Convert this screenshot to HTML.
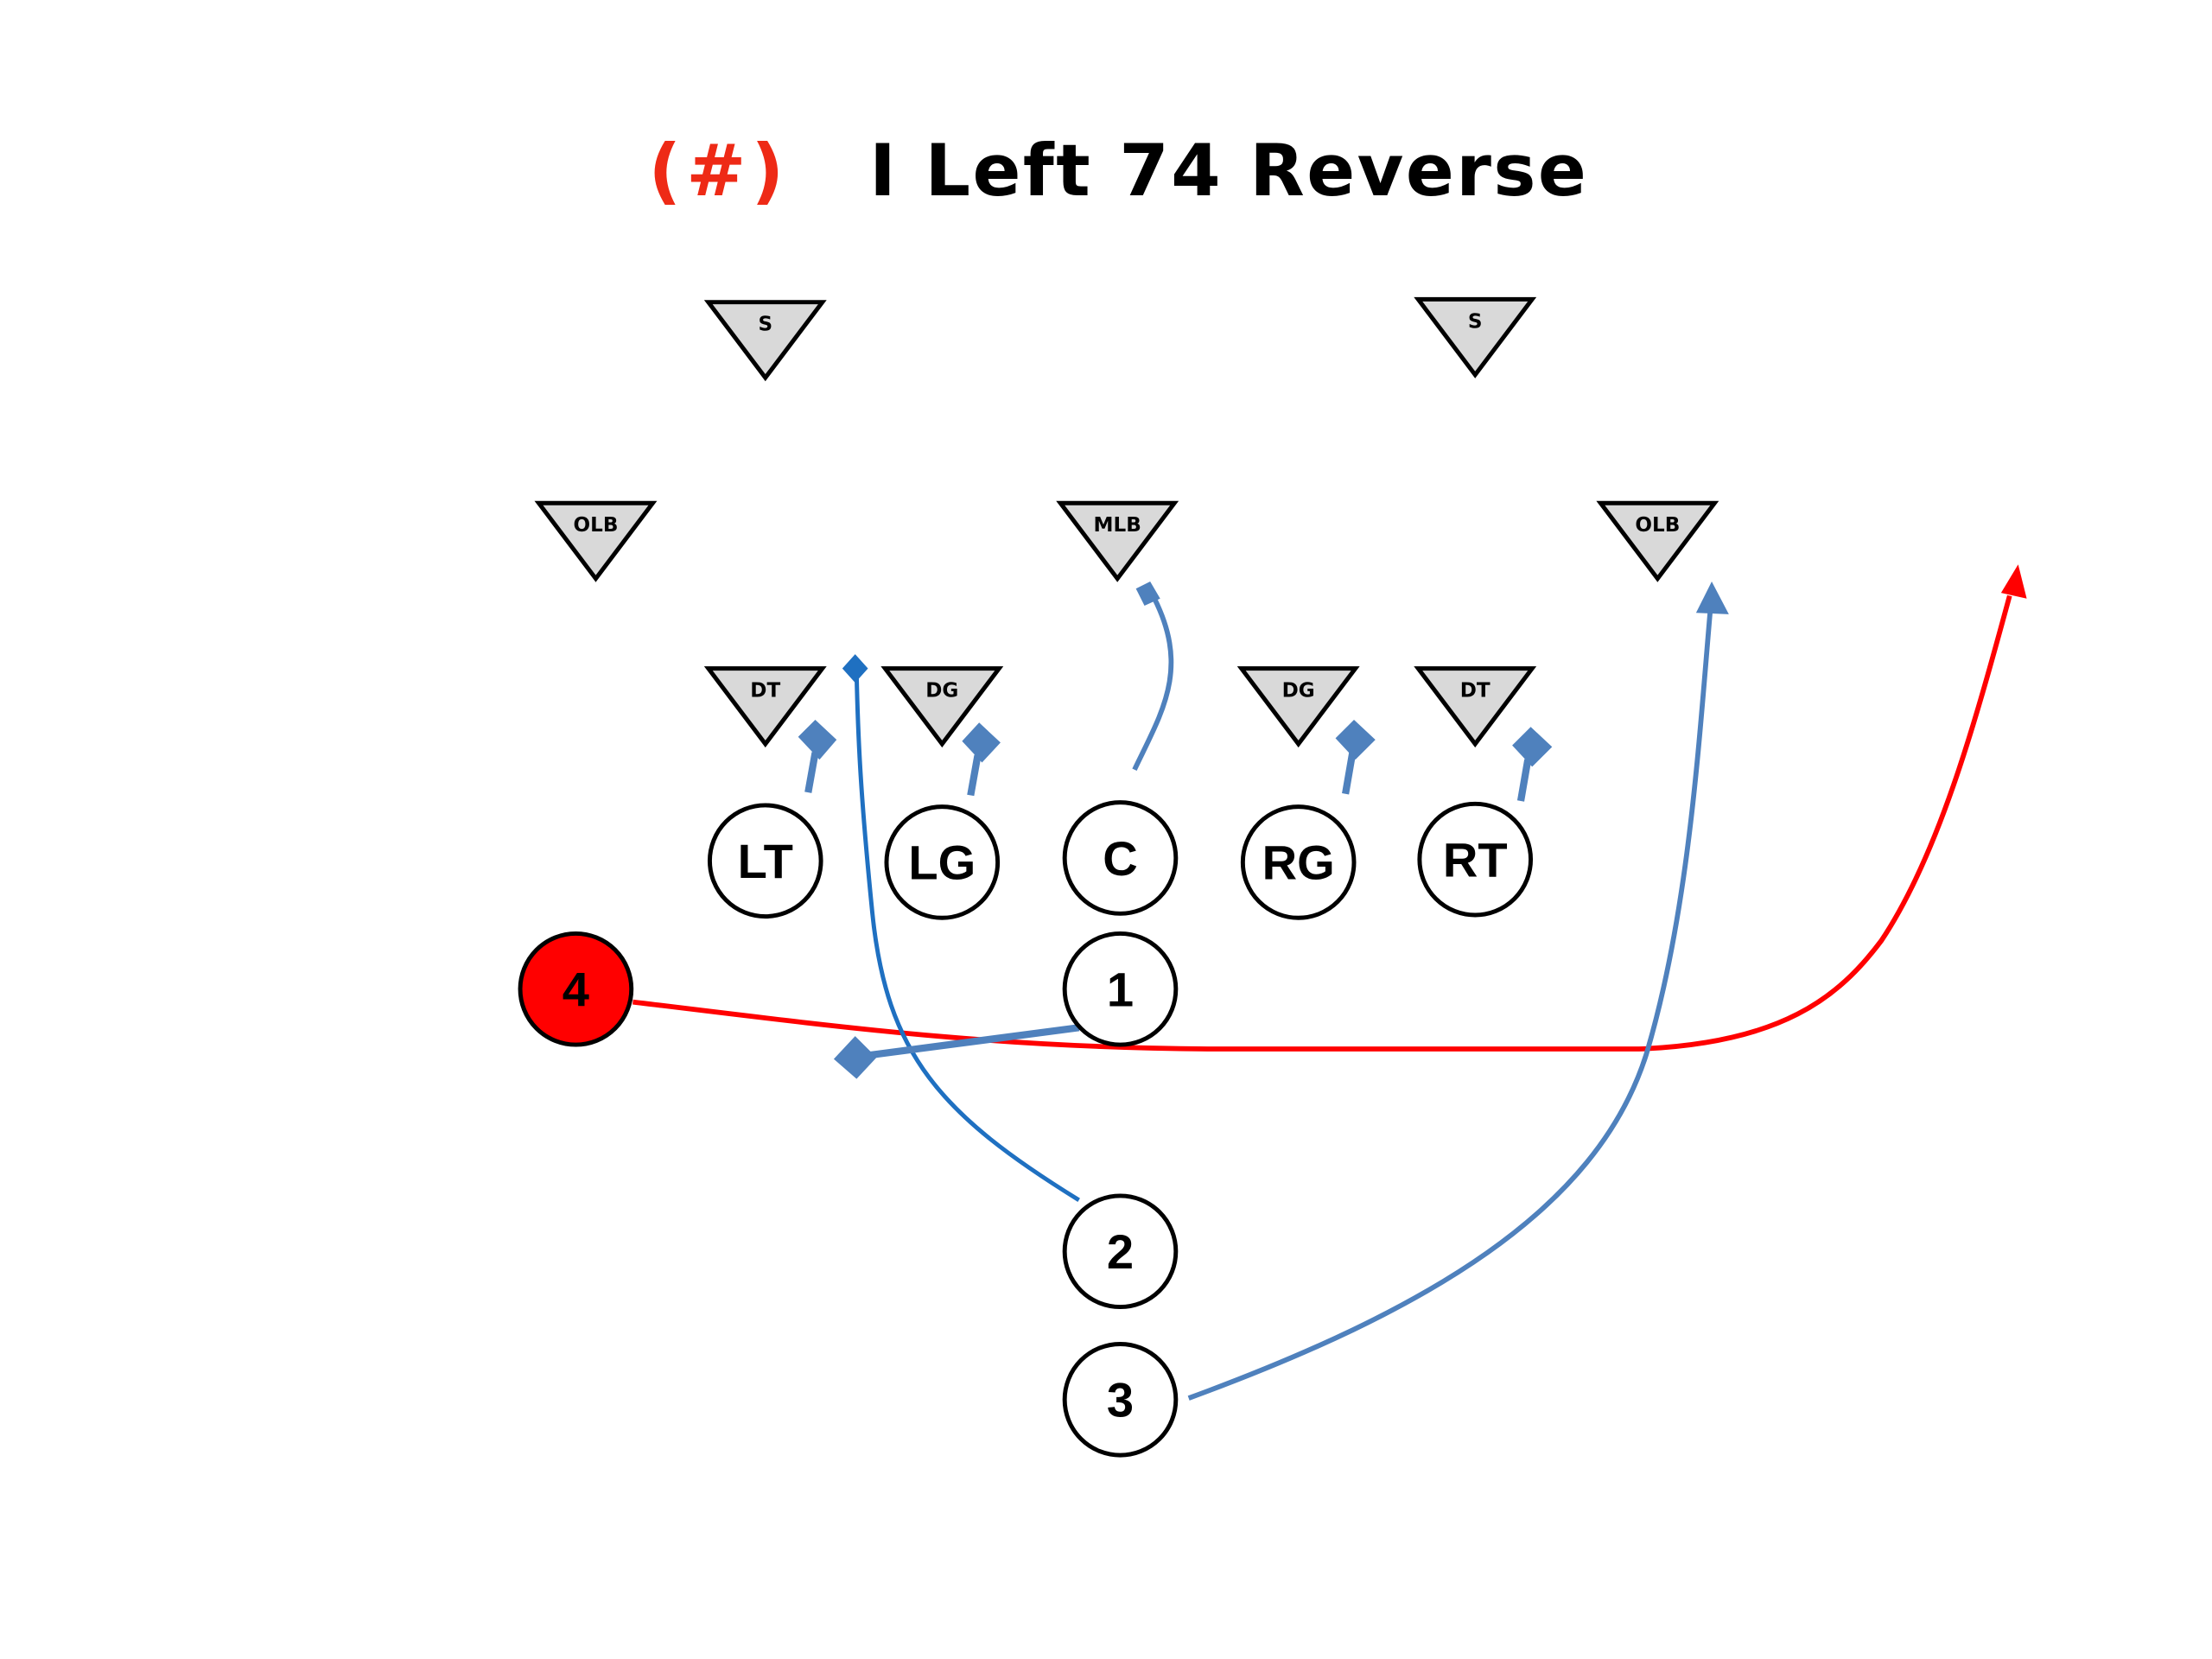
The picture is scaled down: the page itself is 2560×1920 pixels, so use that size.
<!DOCTYPE html>
<html><head><meta charset="utf-8"><style>html,body{margin:0;padding:0;background:#fff}svg{display:block}</style></head>
<body>
<svg width="2560" height="1920" viewBox="0 0 1552 1164" xmlns="http://www.w3.org/2000/svg">
<rect width="1552" height="1164" fill="#fff"/>
<text x="455" y="137" font-family="DejaVu Sans, sans-serif" font-weight="bold" font-size="50" fill="#ee2a16" textLength="95">(#)</text>
<text x="610" y="137" font-family="DejaVu Sans, sans-serif" font-weight="bold" font-size="50" fill="#000" textLength="503">I Left 74 Reverse</text>
<g stroke="#000" stroke-width="3" fill="#d9d9d9" stroke-linejoin="miter">
<polygon points="497,212 577,212 537,265"/>
<polygon points="995,210 1075,210 1035,263"/>
<polygon points="378,353 458,353 418,406"/>
<polygon points="744,353 824,353 784,406"/>
<polygon points="1123,353 1203,353 1163,406"/>
<polygon points="497,469 577,469 537,522"/>
<polygon points="621,469 701,469 661,522"/>
<polygon points="871,469 951,469 911,522"/>
<polygon points="995,469 1075,469 1035,522"/>
</g>
<g font-family="DejaVu Sans, sans-serif" font-weight="bold" font-size="14" fill="#000" text-anchor="middle">
<text x="537" y="232">S</text><text x="1035" y="230">S</text>
<text x="418" y="373">OLB</text><text x="784" y="373">MLB</text><text x="1163" y="373">OLB</text>
<text x="537" y="489">DT</text><text x="661" y="489">DG</text><text x="911" y="489">DG</text><text x="1035" y="489">DT</text>
</g>
<g fill="none" stroke-linecap="butt">
<path d="M444,703 C600,722 700,735 850,736 L1150,736 C1250,732 1290,700 1320,660 C1360,600 1385,510 1410,418" stroke="#f00" stroke-width="3.5"/>
<polygon points="1416,396 1422,420 1404,416" fill="#f00"/>
<path d="M757,842 C660,782 622,740 612,640 C604,560 602,520 601,472" stroke="#1f70c1" stroke-width="3"/>
<polygon points="600,459 609,469 600,479 591,469" fill="#1f70c1"/>
<path d="M834,981 C1000,920 1120,850 1155,740 C1185,640 1192,520 1200,428" stroke="#4f81bd" stroke-width="3.5"/>
<polygon points="1201,408 1213,431 1190,430" fill="#4f81bd"/>
<path d="M796,540 C815,500 835,470 810,420" stroke="#4f81bd" stroke-width="3.5"/>
<polygon points="797,413 807,408 814,420 803,425" fill="#4f81bd"/>
<g stroke="#4f81bd" stroke-width="5">
<line x1="567" y1="556" x2="572" y2="528"/>
<line x1="681" y1="558" x2="686" y2="530"/>
<line x1="944" y1="557" x2="949" y2="528"/>
<line x1="1067" y1="562" x2="1072" y2="533"/>
<line x1="757" y1="721" x2="605" y2="741"/>
</g>
<g fill="#4f81bd">
<polygon points="572,505 587,519 575,533 560,517"/>
<polygon points="687,507 702,521 689,535 675,520"/>
<polygon points="950,505 965,519 951,533 937,518"/>
<polygon points="1074,510 1089,524 1075,538 1061,523"/>
<polygon points="600,727 615,742 601,757 585,743"/>
</g>
</g>
<g stroke="#000" stroke-width="3" fill="#fff">
<circle cx="537" cy="604" r="39"/><circle cx="661" cy="605" r="39"/><circle cx="786" cy="602" r="39"/>
<circle cx="911" cy="605" r="39"/><circle cx="1035" cy="603" r="39"/>
<circle cx="786" cy="694" r="39"/><circle cx="786" cy="878" r="39"/><circle cx="786" cy="982" r="39"/>
<circle cx="404" cy="694" r="39" fill="#f00"/>
</g>
<g font-family="Liberation Sans Narrow, Liberation Sans, sans-serif" font-weight="bold" font-size="34" fill="#000" text-anchor="middle">
<text x="537" y="616">LT</text><text x="661" y="617">LG</text><text x="786" y="614">C</text>
<text x="911" y="617">RG</text><text x="1035" y="615">RT</text>
<text x="786" y="706">1</text><text x="786" y="890">2</text><text x="786" y="994">3</text><text x="404" y="706">4</text>
</g>
</svg>
</body></html>
